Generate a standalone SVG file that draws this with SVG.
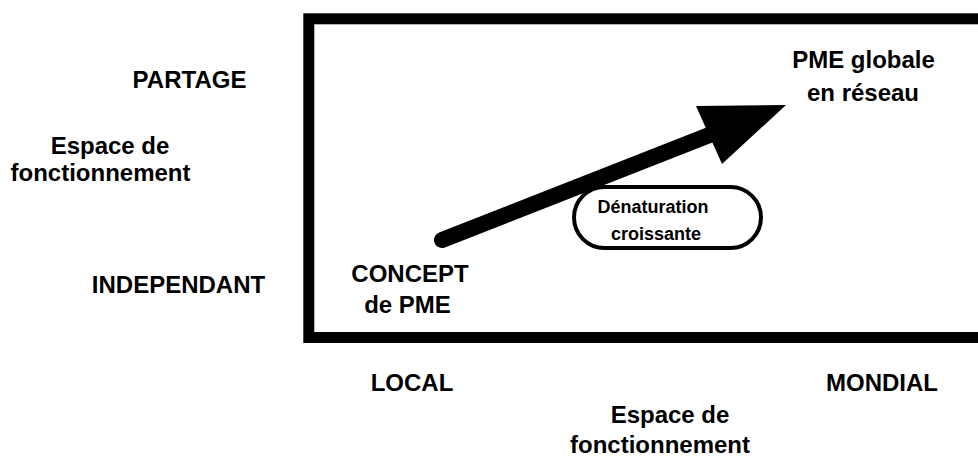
<svg xmlns="http://www.w3.org/2000/svg" width="978" height="457" viewBox="0 0 978 457">
<style>
text{font-family:"Liberation Sans",Arial,Helvetica,sans-serif;font-weight:bold;fill:#000;text-anchor:middle}
.big{font-size:24px}
.small{font-size:18px}
</style>
<rect width="978" height="457" fill="#fff"/>
<g id="frame">
<rect x="308.8" y="18.8" width="690" height="318.7" fill="none" stroke="#000" stroke-width="11"/>
</g>
<g id="axis-labels">
<text class="big" x="189.5" y="88">PARTAGE</text>
<text class="big" x="110" y="154">Espace de</text>
<text class="big" x="100.5" y="181">fonctionnement</text>
<text class="big" x="178.5" y="293">INDEPENDANT</text>
<text class="big" x="412" y="391">LOCAL</text>
<text class="big" x="882" y="391">MONDIAL</text>
<text class="big" x="670" y="423">Espace de</text>
<text class="big" x="660" y="453">fonctionnement</text>
</g>
<g id="node-concept">
<text class="big" x="410" y="282">CONCEPT</text>
<text class="big" x="407.5" y="313">de PME</text>
</g>
<g id="node-global">
<text class="big" x="863.5" y="68">PME globale</text>
<text class="big" x="863" y="101">en réseau</text>
</g>
<g id="node-denaturation">
<rect x="574" y="187" width="187" height="61" rx="30.5" fill="#fff" stroke="#000" stroke-width="4"/>
<text class="small" x="653" y="213">Dénaturation</text>
<text class="small" x="656" y="240">croissante</text>
</g>
<g id="connectors">
<line x1="442" y1="240" x2="712" y2="134" stroke="#000" stroke-width="16" stroke-linecap="round"/>
<polygon points="786,105 696,106 722,164" fill="#000"/>
</g>
</svg>
